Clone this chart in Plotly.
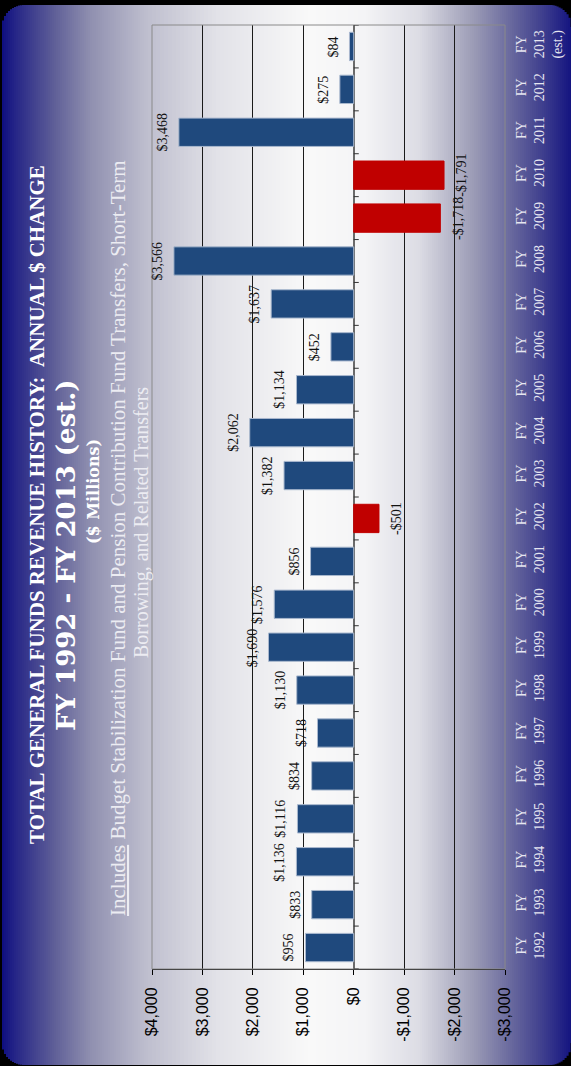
import plotly.graph_objects as go

# ---------------- data ----------------
years = ["1992", "1993", "1994", "1995", "1996", "1997", "1998", "1999", "2000", "2001",
         "2002", "2003", "2004", "2005", "2006", "2007", "2008", "2009", "2010", "2011",
         "2012", "2013<br>(est.)"]
changes = [956, 833, 1136, 1116, 834, 718, 1130, 1690, 1576, 856,
           -501, 1382, 2062, 1134, 452, 1637, 3566, -1718, -1791, 3468,
           275, 84]
value_ticks = [4000, 3000, 2000, 1000, 0, -1000, -2000, -3000]
value_tick_labels = ["$4,000", "$3,000", "$2,000", "$1,000", "$0",
                     "-$1,000", "-$2,000", "-$3,000"]

title_lines = [
    "<b>TOTAL GENERAL FUNDS REVENUE HISTORY:  ANNUAL $ CHANGE</b>",
    "<b>FY 1992 - FY 2013 (est.)</b>",
    "<b>($ Millions)</b>",
    "<u>Includes</u> Budget Stabilization Fund and Pension Contribution Fund Transfers, Short-Term",
    "Borrowing, and Related Transfers",
]

# category labels: "FY" over the year; every label padded to three lines so all align
categories = []
for yr in years:
    lab = "FY<br>" + yr
    if lab.count("<br>") < 2:
        lab += "<br>\u00a0"
    categories.append(lab)

# ---------------- geometry ----------------
W, H = 571, 1066
ML, MR, MT, MB = 152, 66, 25, 97
PW, PH = W - ML - MR, H - MT - MB


def px(x):
    return (x - ML) / PW


def py(y):
    return 1 - (y - MT) / PH


# gradient stops (pixel x, rgb)
stops = [(0, (10, 10, 128)), (18, (42, 42, 136)), (55, (96, 96, 152)),
         (91, (144, 144, 176)), (146, (190, 190, 206)), (218, (226, 226, 232)),
         (310, (249, 249, 249)), (364, (244, 244, 246)), (419, (220, 220, 228)),
         (473, (156, 156, 182)), (510, (106, 106, 158)), (546, (58, 58, 140)),
         (571, (20, 20, 128))]


def grad(x):
    for (x0, c0), (x1, c1) in zip(stops[:-1], stops[1:]):
        if x0 <= x <= x1:
            f = (x - x0) / (x1 - x0)
            return "rgb(%d,%d,%d)" % tuple(round(a + (b - a) * f) for a, b in zip(c0, c1))
    return "rgb(%d,%d,%d)" % stops[-1][1]


shapes = []
left, right, top, bottom, R = 2, 571, 5, 1065, 22
step = 2
x = left
while x < right:
    cx = x + step / 2
    dy = 0
    if cx < left + R:
        d = left + R - cx
        dy = R - (R * R - d * d) ** 0.5
    elif cx > right - R:
        d = cx - (right - R)
        dy = R - max(R * R - d * d, 0) ** 0.5
    shapes.append(dict(type="rect", xref="paper", yref="paper", layer="below",
                       x0=px(x), x1=px(min(x + step + 0.6, right)),
                       y0=py(bottom - dy), y1=py(top + dy),
                       fillcolor=grad(cx), line=dict(width=0)))
    x += step

# plot border
shapes.append(dict(type="rect", xref="paper", yref="paper", x0=0, x1=1, y0=0, y1=1,
                   line=dict(color="#8a8a8a", width=1), layer="above"))
# category ticks on the zero line
for i in range(len(categories) + 1):
    shapes.append(dict(type="line", xref="x", yref="y", x0=0, x1=-100,
                       y0=i - 0.5, y1=i - 0.5, line=dict(color="#333333", width=1),
                       layer="above"))

colors = ["#1F497D" if v >= 0 else "#C00000" for v in changes]
line_colors = ["#A9B8CE" if v >= 0 else "#C00000" for v in changes]
labels = [("-$%s" % format(abs(v), ",")) if v < 0 else ("$%s" % format(v, ",")) for v in changes]

fig = go.Figure()
fig.add_trace(go.Bar(
    x=changes, y=categories, orientation="h",
    marker=dict(color=colors, line=dict(color=line_colors, width=1)),
    hoverinfo="skip",
))

annotations = []
# data labels, outside end of each bar
for v, c, lab in zip(changes, categories, labels):
    annotations.append(dict(
        x=v, y=c, xref="x", yref="y", text=lab, showarrow=False, textangle=-90,
        xanchor="right" if v >= 0 else "left", yanchor="middle",
        xshift=-7 if v >= 0 else 8,
        font=dict(family="Liberation Serif", size=14, color="#111111")))

title_specs = [
    (title_lines[0], 37, 505, 21, "#ffffff", "Liberation Serif"),
    (title_lines[1], 66, 555, 26, "#ffffff", "DejaVu Serif"),
    (title_lines[2], 94, 492, 16, "#ffffff", "DejaVu Serif"),
    (title_lines[3], 118, 538, 21, "#ececf2", "Liberation Serif"),
    (title_lines[4], 141, 523, 20, "#ececf2", "Liberation Serif"),
]
for txt, xx, yy, sz, col, fam in title_specs:
    annotations.append(dict(text=txt, xref="paper", yref="paper", x=px(xx), y=py(yy),
                            xanchor="center", yanchor="middle", textangle=-90,
                            showarrow=False,
                            font=dict(family=fam, size=sz, color=col)))

fig.update_layout(
    width=W, height=H, margin=dict(l=ML, r=MR, t=MT, b=MB, autoexpand=False),
    paper_bgcolor="#000000", plot_bgcolor="rgba(0,0,0,0)",
    showlegend=False, bargap=0.34,
    shapes=shapes, annotations=annotations,
    xaxis=dict(range=[4000, -3000], tickvals=value_ticks, ticktext=value_tick_labels,
               tickangle=-90, ticks="outside", ticklen=5, tickcolor="#000000",
               showline=True, linecolor="#000000", linewidth=1,
               showgrid=True, gridcolor="#1a1a1a", gridwidth=1,
               zeroline=True, zerolinecolor="#6a6a6a", zerolinewidth=1.5,
               tickfont=dict(family="Liberation Sans", size=16, color="#000000"),
               ticklabelstandoff=6, fixedrange=True, automargin=False),
    yaxis=dict(type="category", side="right", tickangle=-90, ticks="",
               showgrid=False, zeroline=False, showline=False,
               range=[-0.5, len(categories) - 0.5],
               tickfont=dict(family="Liberation Serif", size=14, color="#e6e6f0"),
               ticklabelstandoff=6, fixedrange=True, automargin=False),
)

fig.write_html("out.html")
